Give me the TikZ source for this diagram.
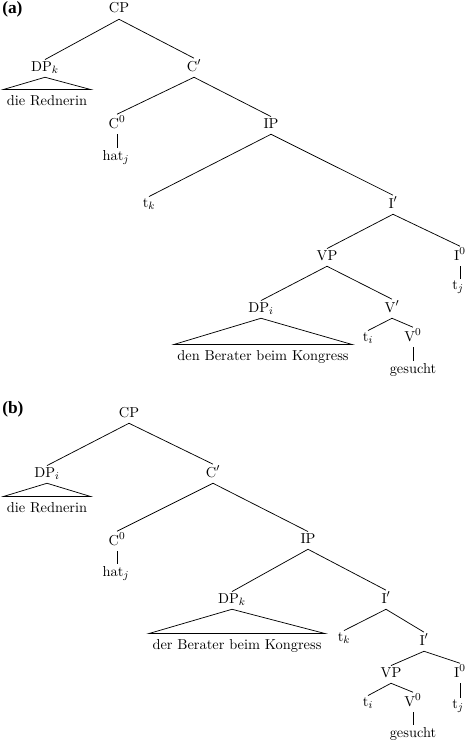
\documentclass[tikz,border=0pt]{standalone}
\usepackage{fontspec}
\usepackage{amsmath}
\newfontfamily\panelfont{Liberation Serif}[BoldFont={Liberation Serif Bold}]

\tikzset{
  tnode/.style={anchor=base, inner sep=1pt, text depth=3.5pt, font=\fontsize{10.8}{13}\selectfont},
  roof/.style={anchor=base, inner xsep=2.5pt, inner ysep=4pt, text height=7.4pt, font=\fontsize{10.8}{13}\selectfont},
  panel/.style={anchor=base west, inner sep=0pt, font=\fontsize{13}{15}\selectfont\panelfont\bfseries},
  branch/.style={line width=0.55pt},
}

\begin{document}
\begin{tikzpicture}[x=0.75pt,y=0.75pt,yscale=-1,xscale=1]
				\useasboundingbox (0,0) rectangle (466,742);
				% (a)
				\node [panel] (labA) at (2,14) {(a)};
				\node [tnode] (CPa) at (119,13) {CP};
				\node [tnode] (DPka) at (45,71) {DP$_k$};
				\node [roof] (RednerA) at (47,105) {die Rednerin};
				\node [tnode] (Cpa) at (194,71) {C$'$};
				\node [tnode] (C0a) at (117,128) {C$^0$};
				\node [tnode] (hata) at (116,160) {hat$_j$};
				\node [tnode] (IPa) at (271,128) {IP};
				\node [tnode] (tka) at (149,207) {t$_k$};
				\node [tnode] (Ipa) at (393,208) {I$'$};
				\node [tnode] (VPa) at (327,260) {VP};
				\node [tnode] (I0a) at (460,260) {I$^0$};
				\node [tnode] (tja) at (458,289) {t$_j$};
				\node [tnode] (DPia) at (261,312) {DP$_i$};
				\node [roof] (BeraterA) at (263,360) {den Berater beim Kongress};
				\node [tnode] (Vpa) at (392,312) {V$'$};
				\node [tnode] (tia) at (368,341) {t$_i$};
				\node [tnode] (V0a) at (413,341) {V$^0$};
				\node [tnode] (gesuchtA) at (413,373) {gesucht};
				\draw [branch] (CPa.south) -- (DPka.north);
				\draw [branch] (CPa.south) -- (Cpa.north);
				\draw [branch] (DPka.south) -- (RednerA.north west) -- (RednerA.north east) -- cycle;
				\draw [branch] (Cpa.south) -- (C0a.north);
				\draw [branch] (C0a.south) -- (hata.north -| C0a.south);
				\draw [branch] (Cpa.south) -- (IPa.north);
				\draw [branch] (IPa.south) -- (tka.north);
				\draw [branch] (IPa.south) -- (Ipa.north);
				\draw [branch] (Ipa.south) -- (VPa.north);
				\draw [branch] (Ipa.south) -- (I0a.north);
				\draw [branch] (I0a.south) -- (tja.north -| I0a.south);
				\draw [branch] (VPa.south) -- (DPia.north);
				\draw [branch] (VPa.south) -- (Vpa.north);
				\draw [branch] (DPia.south) -- (BeraterA.north west) -- (BeraterA.north east) -- cycle;
				\draw [branch] (Vpa.south) -- (tia.north);
				\draw [branch] (Vpa.south) -- (V0a.north);
				\draw [branch] (V0a.south) -- (gesuchtA.north -| V0a.south);
				% (b)
				\node [panel] (labB) at (2,413) {(b)};
				\node [tnode] (CPb) at (129,417) {CP};
				\node [tnode] (DPib) at (47,477) {DP$_i$};
				\node [roof] (RednerB) at (47,512) {die Rednerin};
				\node [tnode] (Cpb) at (213,477) {C$'$};
				\node [tnode] (C0b) at (117,545) {C$^0$};
				\node [tnode] (hatb) at (116,576) {hat$_j$};
				\node [tnode] (IPb) at (308,543) {IP};
				\node [tnode] (DPkb) at (232,603) {DP$_k$};
				\node [roof] (BeraterB) at (237,649) {der Berater beim Kongress};
				\node [tnode] (Ipb) at (386,603) {I$'$};
				\node [tnode] (tkb) at (344,641) {t$_k$};
				\node [tnode] (Ipc) at (424,645) {I$'$};
				\node [tnode] (VPb) at (391,677) {VP};
				\node [tnode] (I0b) at (460,677) {I$^0$};
				\node [tnode] (tjb) at (458,708) {t$_j$};
				\node [tnode] (tib) at (368,706) {t$_i$};
				\node [tnode] (V0b) at (413,706) {V$^0$};
				\node [tnode] (gesuchtB) at (413,737) {gesucht};
				\draw [branch] (CPb.south) -- (DPib.north);
				\draw [branch] (CPb.south) -- (Cpb.north);
				\draw [branch] (DPib.south) -- (RednerB.north west) -- (RednerB.north east) -- cycle;
				\draw [branch] (Cpb.south) -- (C0b.north);
				\draw [branch] (C0b.south) -- (hatb.north -| C0b.south);
				\draw [branch] (Cpb.south) -- (IPb.north);
				\draw [branch] (IPb.south) -- (DPkb.north);
				\draw [branch] (IPb.south) -- (Ipb.north);
				\draw [branch] (DPkb.south) -- (BeraterB.north west) -- (BeraterB.north east) -- cycle;
				\draw [branch] (Ipb.south) -- (tkb.north);
				\draw [branch] (Ipb.south) -- (Ipc.north);
				\draw [branch] (Ipc.south) -- (VPb.north);
				\draw [branch] (Ipc.south) -- (I0b.north);
				\draw [branch] (I0b.south) -- (tjb.north -| I0b.south);
				\draw [branch] (VPb.south) -- (tib.north);
				\draw [branch] (VPb.south) -- (V0b.north);
				\draw [branch] (V0b.south) -- (gesuchtB.north -| V0b.south);
\end{tikzpicture}
\end{document}
